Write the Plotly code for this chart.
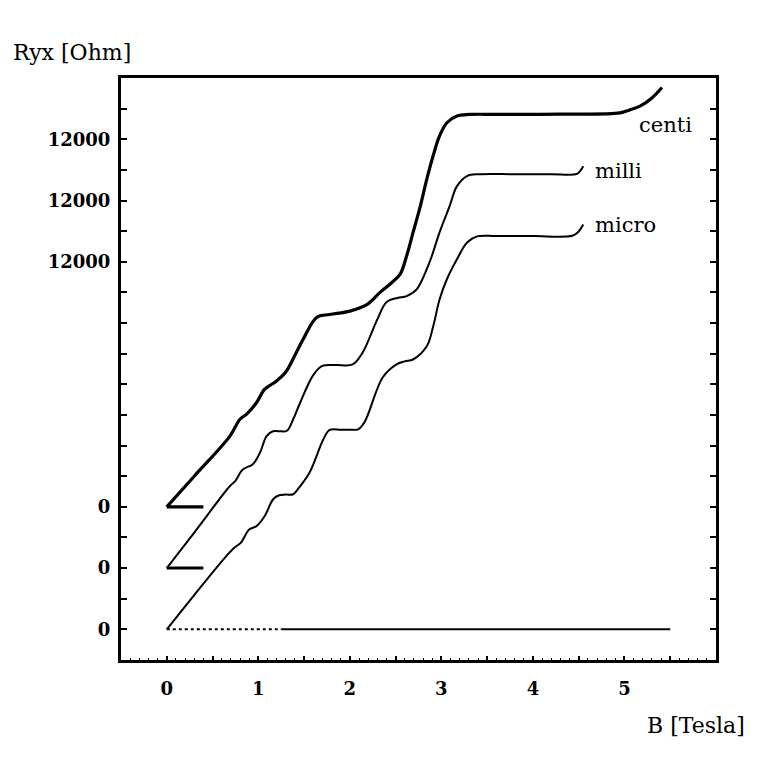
import plotly.graph_objects as go

# ---------------- data (B in Tesla, Ryx in Ohm, before display offset) ----------------
micro_B = [0, 0.30, 0.65, 0.74, 0.81, 0.90, 0.98, 1.07, 1.16, 1.22, 1.30, 1.38, 1.43, 1.56,
           1.71, 1.78, 1.90, 2.00, 2.09, 2.16, 2.36, 2.51, 2.60, 2.69, 2.84, 2.91, 2.98,
           3.06, 3.17, 3.28, 3.39, 3.60, 4.00, 4.43, 4.49, 4.55]
micro_R = [0, 1120, 2390, 2670, 2830, 3260, 3370, 3700, 4240, 4370, 4400, 4410, 4570, 5120,
           6200, 6510, 6520, 6520, 6530, 6760, 8230, 8650, 8750, 8810, 9240, 9890, 10770,
           11430, 12080, 12630, 12830, 12840, 12840, 12850, 12960, 13220]

milli_B = [0, 0.30, 0.69, 0.75, 0.83, 0.94, 1.02, 1.09, 1.16, 1.22, 1.31, 1.38, 1.45, 1.60,
           1.70, 1.85, 2.03, 2.14, 2.30, 2.40, 2.52, 2.62, 2.73, 2.87, 2.98, 3.09, 3.17,
           3.28, 3.42, 3.80, 4.20, 4.48, 4.52, 4.55]
milli_R = [0, 1160, 2680, 2850, 3220, 3390, 3780, 4310, 4470, 4470, 4480, 4850, 5350, 6300,
           6600, 6630, 6650, 7040, 8120, 8680, 8820, 8880, 9100, 9980, 10960, 11820, 12470,
           12800, 12860, 12860, 12860, 12870, 12980, 13120]

centi_B = [0, 0.30, 0.69, 0.80, 0.87, 0.98, 1.07, 1.20, 1.30, 1.40, 1.49, 1.64, 1.78, 2.00,
           2.19, 2.33, 2.45, 2.55, 2.62, 2.69, 2.77, 2.84, 2.91, 2.98, 3.06, 3.17, 3.31,
           3.64, 4.30, 4.95, 5.05, 5.17, 5.30, 5.41]
centi_R = [0, 1000, 2310, 2860, 3020, 3400, 3840, 4110, 4400, 4950, 5470, 6190, 6280, 6390,
           6610, 7000, 7300, 7600, 8190, 8950, 9820, 10690, 11460, 12110, 12540, 12760, 12810,
           12810, 12820, 12860, 12950, 13080, 13350, 13690]

# display offsets of the stacked traces
offsets = {"micro": 0, "milli": 2000, "centi": 4000}

# baseline segments (B range, Ryx = 0)
centi_base_B = [0, 0.40]
milli_base_B = [0, 0.40]
micro_base_dot_B = [0, 1.25]
micro_base_B = [1.25, 5.5]

# axis ticks
x_tickvals = [0, 0.5, 1, 1.5, 2, 2.5, 3, 3.5, 4, 4.5, 5, 5.5]
x_ticktext = ["0", "", "1", "", "2", "", "3", "", "4", "", "5", ""]
y_tickvals = list(range(0, 18000, 1000))
y_labels = {0: "0", 2000: "0", 4000: "0", 12000: "12000", 14000: "12000", 16000: "12000"}
y_ticktext = [y_labels.get(v, "") for v in y_tickvals]

SERIF = "DejaVu Serif"

fig = go.Figure()


def add_line(xs, ys, width, dash="solid"):
    fig.add_trace(go.Scatter(x=xs, y=ys, mode="lines",
                             line=dict(color="black", width=width, dash=dash,
                                       shape="spline", smoothing=1.0),
                             showlegend=False, hoverinfo="skip"))


add_line(micro_B, [r + offsets["micro"] for r in micro_R], 2)
add_line(milli_B, [r + offsets["milli"] for r in milli_R], 2)
add_line(centi_B, [r + offsets["centi"] for r in centi_R], 3.2)

add_line(centi_base_B, [offsets["centi"]] * 2, 3.2)
add_line(milli_base_B, [offsets["milli"]] * 2, 3)
add_line(micro_base_dot_B, [offsets["micro"]] * 2, 2, dash="dot")
add_line(micro_base_B, [offsets["micro"]] * 2, 2)

label_font = dict(family=SERIF, size=21, color="black")
fig.add_annotation(x=5.14, y=16450, text="centi", xref="x", yref="y",
                   xanchor="left", yanchor="middle", showarrow=False, font=label_font)
fig.add_annotation(x=4.66, y=14970, text="milli", xref="x", yref="y",
                   xanchor="left", yanchor="middle", showarrow=False, font=label_font)
fig.add_annotation(x=4.66, y=13200, text="micro", xref="x", yref="y",
                   xanchor="left", yanchor="middle", showarrow=False, font=label_font)

title_font = dict(family=SERIF, size=22, color="black")
fig.add_annotation(x=-0.082, y=1.043, xref="paper", yref="paper", text="Ryx [Ohm]",
                   xanchor="center", yanchor="middle", showarrow=False, font=title_font)
fig.add_annotation(x=0.966, y=-0.113, xref="paper", yref="paper", text="B [Tesla]",
                   xanchor="center", yanchor="middle", showarrow=False, font=title_font)

tick_font = dict(family=SERIF, size=18, color="black", weight="bold")

fig.update_xaxes(range=[-0.5, 6.0], showgrid=False, zeroline=False,
                 showline=True, linewidth=3, linecolor="black", mirror=True,
                 tickmode="array", tickvals=x_tickvals, ticktext=x_ticktext,
                 ticks="inside", ticklen=4, tickwidth=2, tickcolor="black",
                 tickfont=tick_font, ticklabelstandoff=10,
                 minor=dict(ticks="inside", ticklen=2, tickwidth=1, tickcolor="black",
                            dtick=0.1, tick0=0, showgrid=False))
fig.update_yaxes(range=[-1000, 18000], showgrid=False, zeroline=False,
                 showline=True, linewidth=3, linecolor="black", mirror="ticks",
                 tickmode="array", tickvals=y_tickvals, ticktext=y_ticktext,
                 ticks="inside", ticklen=6, tickwidth=2, tickcolor="black",
                 tickfont=tick_font, ticklabelstandoff=4)

fig.update_layout(width=763, height=766, autosize=False,
                  margin=dict(l=113, r=55, t=70, b=114, pad=0),
                  plot_bgcolor="white", paper_bgcolor="white",
                  showlegend=False)

fig.write_html("out.html")
